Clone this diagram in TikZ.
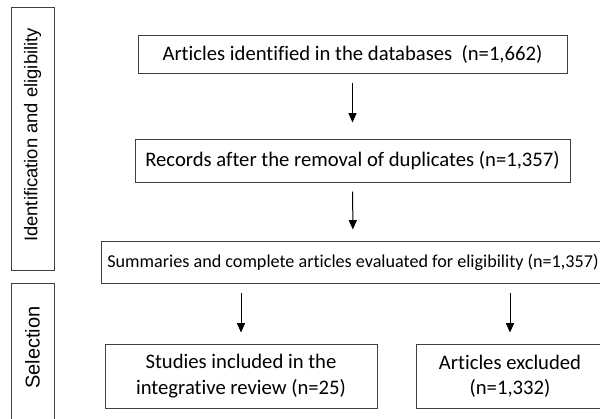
\documentclass[tikz,border=0pt]{standalone}
\usepackage{fontspec}
\setmainfont{Carlito}[Ligatures=NoCommon]
\newfontfamily\sidefont{Liberation Sans}[Ligatures=NoCommon]
\usetikzlibrary{arrows.meta,positioning}
\tikzset{
	stagebox/.style={draw=black!75, line width=0.75pt, inner sep=0pt, align=center},
	sidebox/.style={draw=black!75, line width=0.75pt, inner sep=0pt},
	flow/.style={-{Triangle[width=6pt,length=7pt]}, line width=0.75pt, shorten <=6.75pt, shorten >=8.25pt}
}
\begin{document}
\begin{tikzpicture}[x=0.75pt, y=-0.75pt, font=\fontsize{15.5}{19}\selectfont]
			\useasboundingbox (0,0) rectangle (600,418);
			\clip (0,0) rectangle (600,418);
			% stage labels on the left
			\node[sidebox, minimum width=32.25pt, minimum height=197.25pt] (s1) at (32.5, 138.5) {};
			\node[rotate=90, font=\sidefont\fontsize{13.8}{16}\selectfont] (s1_t) at (32.5, 135) {Identification and eligibility};
			\node[sidebox, minimum width=32.25pt, minimum height=112pt] (s2) at (32.5, 358) {};
			\node[rotate=90, font=\sidefont\fontsize{15}{18}\selectfont] (s2_t) at (32.5, 347.5) {Selection};
			% flow boxes
			\node[stagebox, minimum width=321.75pt, minimum height=28.5pt] (b1) at (352.5, 54) {Articles identified in the databases~~(n=1,662)};
			\node[stagebox, minimum width=326.25pt, minimum height=32.25pt] (b2) at (352.5, 160.5) {Records after the removal of duplicates (n=1,357)};
			\node[stagebox, minimum width=378pt, minimum height=31.5pt, font=\fontsize{13.6}{16}\selectfont] (b3) at (353, 262) {Summaries and complete articles evaluated for eligibility (n=1,357)};
			\node[stagebox, minimum width=204pt, minimum height=48pt] (b4) at (241, 376) {Studies included in the\\integrative review (n=25)};
			\node[stagebox, minimum width=141pt, minimum height=48pt] (b5) at (510, 376) {Articles excluded\\(n=1,332)};
			\path[flow, shorten >=12pt] (b1) edge (b2);
			\path[flow] (b2) edge (b3);
			\path[flow] (b3.south -| b4) edge (b4);
			\path[flow] (b3.south -| b5) edge (b5);
		\end{tikzpicture}
\end{document}
